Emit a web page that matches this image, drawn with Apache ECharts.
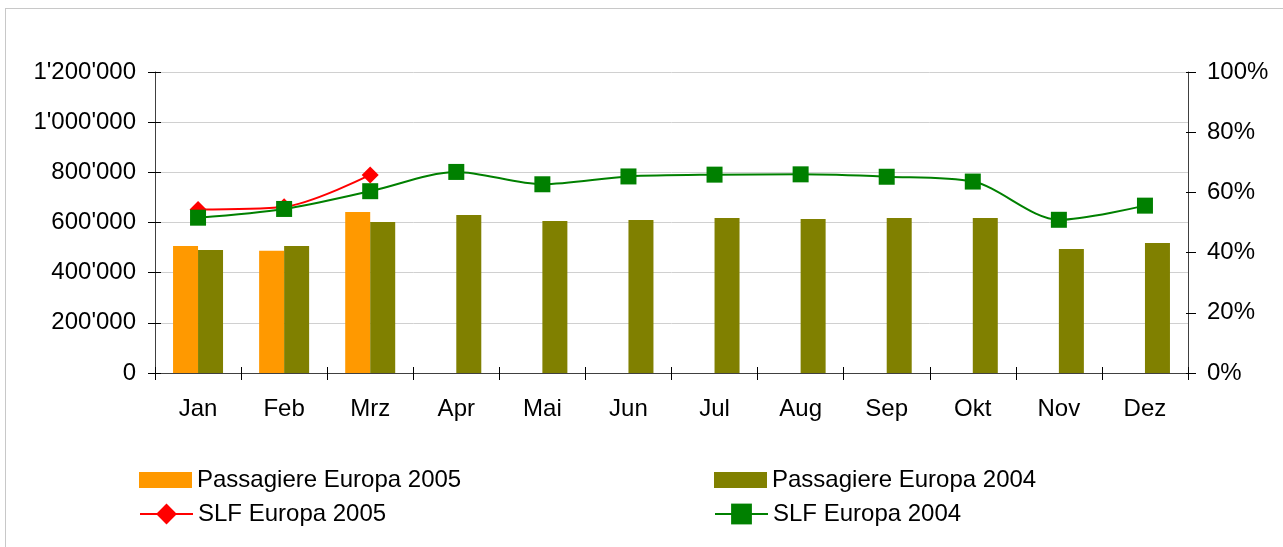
<!DOCTYPE html>
<html>
<head>
<meta charset="utf-8">
<script src="https://cdn.jsdelivr.net/npm/echarts@6/dist/echarts.min.js"></script>
<style>
  html, body { margin: 0; padding: 0; background: #fff; }
  #frame { position: absolute; left: 5px; top: 8px; width: 1300px; height: 560px; border: 1px solid #c8c8c8; }
  #chart { position: absolute; left: 0; top: 0; width: 1283px; height: 547px; }
</style>
</head>
<body>
<div id="frame"></div>
<div id="chart"></div>
<script>
const months = ['Jan', 'Feb', 'Mrz', 'Apr', 'Mai', 'Jun', 'Jul', 'Aug', 'Sep', 'Okt', 'Nov', 'Dez']
const pax2005 = [506000, 487000, 642000, null, null, null, null, null, null, null, null, null]
const pax2004 = [490000, 506000, 602000, 630000, 606000, 610000, 618000, 614000, 618000, 618000, 494000, 518000]
const slf2005 = [54.3, 55.2, 65.8, null, null, null, null, null, null, null, null, null]
const slf2004 = [51.6, 54.5, 60.4, 66.8, 62.7, 65.3, 65.9, 66.0, 65.2, 63.6, 50.9, 55.6]

const font = 'Liberation Sans, Arial, sans-serif'
const textStyle = { color: '#000', fontSize: 24, fontFamily: font }

const fmtThousands = (v) => String(v).replace(/\B(?=(\d{3})+(?!\d))/g, "'")

// legend helper, one per entry so bars and lines can have their own icon sizes
const legendItem = (name, left, top, h, icon) => ({
  data: [icon ? { name, icon } : name],
  left, top, itemWidth: 53, itemHeight: h, padding: 0, textStyle
})

// an extra axis with inward ticks makes the ticks cross the axis line
const ghostTicks = { show: true, inside: true, length: 6, lineStyle: { color: '#000' } }

const myChart = echarts.init(document.getElementById('chart'))
myChart.setOption({
  animation: false,
  textStyle: { fontFamily: font },
  grid: { left: 155, right: 95, top: 72, bottom: 174, containLabel: false },
  legend: [
    legendItem('Passagiere Europa 2005', 139, 468, 16, 'rect'),
    legendItem('SLF Europa 2005', 139, 502, 26),
    legendItem('Passagiere Europa 2004', 714, 468, 16, 'rect'),
    legendItem('SLF Europa 2004', 714, 502, 26)
  ],
  xAxis: [
    {
      type: 'category',
      data: months,
      axisLine: { lineStyle: { color: '#404040', width: 1 } },
      axisTick: { show: true, length: 7, lineStyle: { color: '#000' } },
      axisLabel: { ...textStyle, margin: 24 }
    },
    {
      type: 'category', data: months, position: 'bottom',
      axisLine: { show: false }, axisTick: ghostTicks,
      axisLabel: { show: false }, splitLine: { show: false }
    }
  ],
  yAxis: [
    {
      type: 'value', min: 0, max: 1200000, interval: 200000,
      axisLine: { show: true, lineStyle: { color: '#404040' } },
      axisTick: { show: true, length: 7, lineStyle: { color: '#000' } },
      splitLine: { lineStyle: { color: '#d0d0d0', width: 1 } },
      axisLabel: { ...textStyle, margin: 19, formatter: fmtThousands }
    },
    {
      type: 'value', min: 0, max: 100, interval: 20,
      axisLine: { show: true, lineStyle: { color: '#404040' } },
      axisTick: { show: true, length: 8, lineStyle: { color: '#000' } },
      splitLine: { show: false },
      axisLabel: { ...textStyle, margin: 19, formatter: '{value}%' }
    },
    {
      type: 'value', min: 0, max: 1200000, interval: 200000, position: 'left',
      axisLine: { show: false }, axisTick: ghostTicks,
      axisLabel: { show: false }, splitLine: { show: false }
    },
    {
      type: 'value', min: 0, max: 100, interval: 20, position: 'right',
      axisLine: { show: false }, axisTick: { ...ghostTicks, length: 2 },
      axisLabel: { show: false }, splitLine: { show: false }
    }
  ],
  series: [
    {
      name: 'Passagiere Europa 2005', type: 'bar', data: pax2005,
      barWidth: 25, barGap: '0%', itemStyle: { color: '#FF9900' }
    },
    {
      name: 'Passagiere Europa 2004', type: 'bar', data: pax2004,
      barWidth: 25, barGap: '0%', itemStyle: { color: '#808000' }
    },
    {
      name: 'SLF Europa 2005', type: 'line', yAxisIndex: 1, data: slf2005,
      smooth: 0.3, symbol: 'diamond', symbolSize: 17,
      lineStyle: { color: '#FF0000', width: 2 }, itemStyle: { color: '#FF0000' }
    },
    {
      name: 'SLF Europa 2004', type: 'line', yAxisIndex: 1, data: slf2004,
      smooth: 0.3, symbol: 'rect', symbolSize: 16,
      lineStyle: { color: '#008000', width: 2 }, itemStyle: { color: '#008000' }
    }
  ]
})
</script>
</body>
</html>
